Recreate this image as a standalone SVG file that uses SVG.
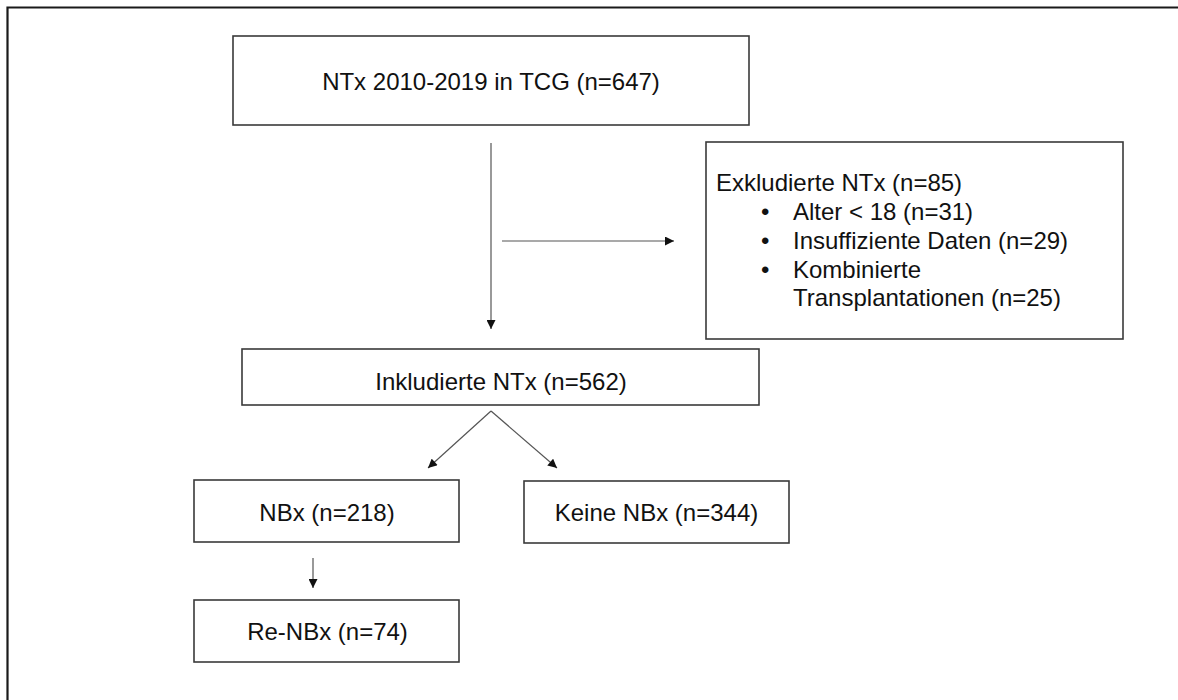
<svg xmlns="http://www.w3.org/2000/svg" width="1178" height="700" viewBox="0 0 1178 700">
  <style>
    .box { fill: #ffffff; stroke: #3a3a3a; stroke-width: 1.6; }
    .lbl { font-family: "Liberation Sans", Arial, sans-serif; font-size: 24px; fill: #111111; }
    .mid { text-anchor: middle; }
    .conn { stroke: #555555; stroke-width: 1.2; fill: none; marker-end: url(#arr); }
  </style>
  <defs>
    <marker id="arr" viewBox="0 0 10 10" refX="10" refY="5" markerWidth="10" markerHeight="9" markerUnits="userSpaceOnUse" orient="auto">
      <path d="M0,0 L10,5 L0,10 Z" fill="#111111"/>
    </marker>
  </defs>
  <rect x="0" y="0" width="1178" height="700" fill="#ffffff"/>
  <path d="M7.5,700 L7.5,7.5 L1178,7.5" fill="none" stroke="#1a1a1a" stroke-width="2.2"/>

  <g id="node-total">
    <rect class="box" x="233" y="36" width="516" height="89"/>
    <text class="lbl mid" x="491" y="90">NTx 2010-2019 in TCG (n=647)</text>
  </g>

  <g id="node-excluded">
    <rect class="box" x="706" y="142" width="417" height="197"/>
    <text class="lbl" x="716" y="191">Exkludierte NTx (n=85)</text>
    <text class="lbl" x="761" y="220">•</text>
    <text class="lbl" x="793" y="220">Alter &lt; 18 (n=31)</text>
    <text class="lbl" x="761" y="249">•</text>
    <text class="lbl" x="793" y="249">Insuffiziente Daten (n=29)</text>
    <text class="lbl" x="761" y="278">•</text>
    <text class="lbl" x="793" y="278">Kombinierte</text>
    <text class="lbl" x="793" y="306">Transplantationen (n=25)</text>
  </g>

  <g id="node-included">
    <rect class="box" x="242" y="349" width="517" height="56"/>
    <text class="lbl mid" x="501" y="390">Inkludierte NTx (n=562)</text>
  </g>

  <g id="node-nbx">
    <rect class="box" x="194" y="480" width="265" height="62"/>
    <text class="lbl mid" x="327" y="521">NBx (n=218)</text>
  </g>

  <g id="node-keine">
    <rect class="box" x="524" y="481" width="265" height="62"/>
    <text class="lbl mid" x="656.5" y="521">Keine NBx (n=344)</text>
  </g>

  <g id="node-renbx">
    <rect class="box" x="194" y="600" width="265" height="62"/>
    <text class="lbl mid" x="327.5" y="640">Re-NBx (n=74)</text>
  </g>

  <g id="connectors">
    <line class="conn" x1="491" y1="143" x2="491" y2="329"/>
    <line class="conn" x1="502" y1="241" x2="674" y2="241"/>
    <line class="conn" x1="491" y1="411" x2="428" y2="468"/>
    <line class="conn" x1="491" y1="411" x2="557" y2="468"/>
    <line class="conn" x1="313" y1="558" x2="313" y2="588"/>
  </g>
</svg>
